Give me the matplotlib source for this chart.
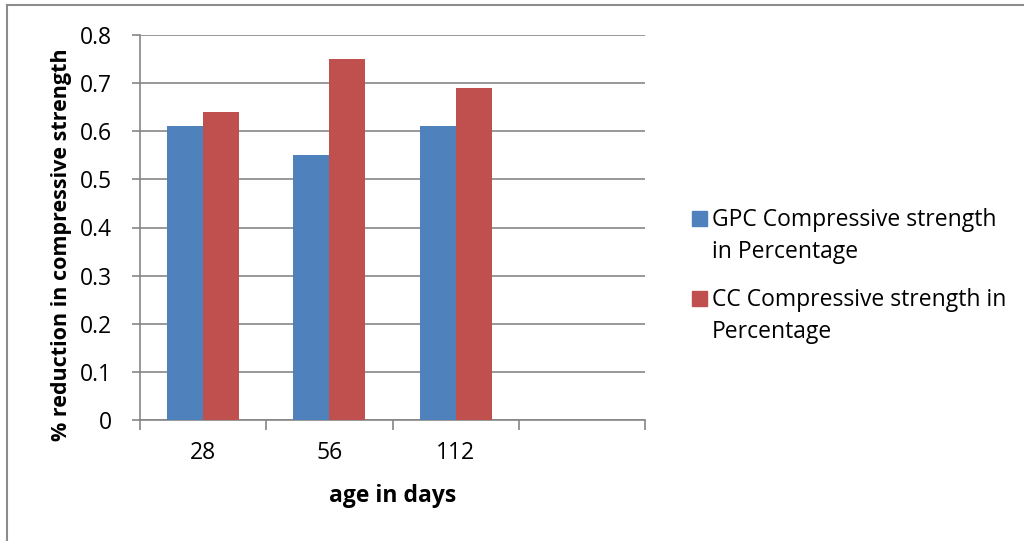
import numpy as np
import matplotlib.pyplot as plt
from matplotlib.lines import Line2D
from matplotlib.patches import Rectangle

plt.rcParams['font.family'] = ['Open Sans', 'DejaVu Sans']

# Data
categories = ['28', '56', '112', '']
gpc_values = [0.61, 0.55, 0.61]
cc_values = [0.64, 0.75, 0.69]
series_names = ['GPC Compressive strength\nin Percentage',
                'CC Compressive strength in\nPercentage']
y_ticks = [0, 0.1, 0.2, 0.3, 0.4, 0.5, 0.6, 0.7, 0.8]

blue = '#4F81BD'
red = '#C0504D'
grid_col = '#868686'
fs = 16.5

W, H = 1024, 541
fig = plt.figure(figsize=(W / 100, H / 100), dpi=100)
ax = fig.add_axes([140 / W, 1 - 420 / H, (645 - 140) / W, (420 - 35) / H])

bw = 0.286
x = np.arange(len(gpc_values))
ax.bar(x - bw / 2, gpc_values, bw, color=blue, zorder=3)
ax.bar(x + bw / 2, cc_values, bw, color=red, zorder=3)

ax.set_xlim(-0.5, len(categories) - 0.5)
ax.set_ylim(0, 0.8)
ax.set_yticks(y_ticks)
ax.set_yticklabels(['0' if v == 0 else f'{v:.1f}' for v in y_ticks])
ax.yaxis.grid(True, color=grid_col, lw=1.2, zorder=0)
ax.set_axisbelow(True)

# category boundary ticks
ax.set_xticks(np.arange(len(categories) + 1) - 0.5)
ax.set_xticklabels([])
ax.set_xticks(np.arange(len(categories)), minor=True)
ax.set_xticklabels(categories, minor=True)
ax.tick_params(axis='x', which='major', length=7, color=grid_col, width=1.2)
ax.tick_params(axis='x', which='minor', length=0, pad=15, labelsize=fs)
ax.tick_params(axis='y', length=6, color=grid_col, width=1.2, labelsize=fs, pad=14)

for s in ['top', 'right']:
    ax.spines[s].set_visible(False)
for s in ['left', 'bottom']:
    ax.spines[s].set_color(grid_col)
    ax.spines[s].set_linewidth(1.2)

ax.set_xlabel('age in days', fontsize=fs, fontweight='bold', labelpad=14)
ax.set_ylabel('% reduction in compressive strength', fontsize=15.5,
              fontweight='bold')
ax.yaxis.set_label_coords(-0.135, 0.455)

# legend, Excel style: square beside first line, wrapped text
for k, (name, col) in enumerate(zip(series_names, [blue, red])):
    y0 = 226 + k * 80
    fig.add_artist(Rectangle((692 / W, 1 - y0 / H), 15 / W, 15 / H,
                             color=col, transform=fig.transFigure))
    for i, line in enumerate(name.split('\n')):
        fig.text(712 / W, 1 - (y0 + 32 * i) / H, line, fontsize=fs,
                 va='baseline', ha='left')

# outer border (right and bottom edges are cropped off)
fig.add_artist(Line2D([7 / W, 7 / W], [0, 1 - 5 / H], color='#8c8c8c', lw=1.5,
                      transform=fig.transFigure))
fig.add_artist(Line2D([7 / W, 1], [1 - 5 / H, 1 - 5 / H], color='#8c8c8c', lw=1.5,
                      transform=fig.transFigure))

fig.savefig('out.png', dpi=100)
